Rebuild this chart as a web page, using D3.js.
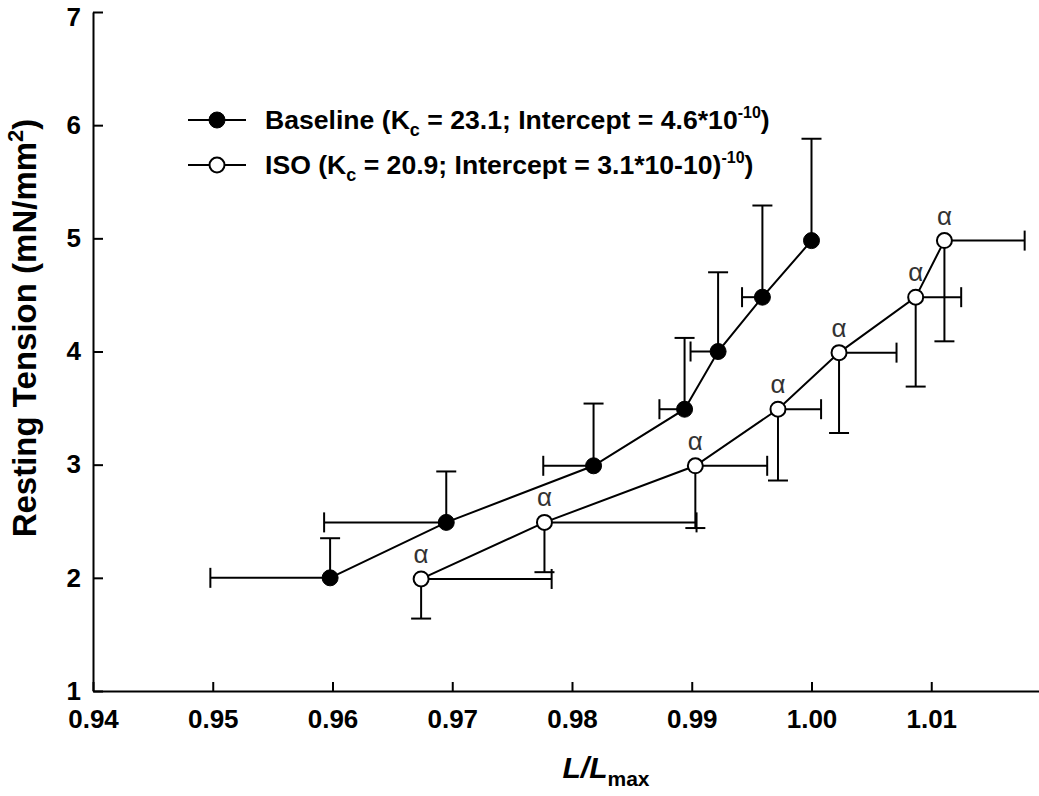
<!DOCTYPE html>
<html>
<head>
<meta charset="utf-8">
<script src="https://cdn.jsdelivr.net/npm/d3@7"></script>
<style>
    body { margin: 0; background: #fff; }
    svg { display: block; }
    text { font-family: Arial, "Liberation Sans", sans-serif; }
</style>
</head>
<body>
<div id="graph"></div>
<script>
// Canvas Info
var CanvasInfo = {
    width: 1039,
    height: 796,
    id: "#graph"
};

// Plot area (pixel edges of the axes)
var PlotInfo = {
    left: 93,
    right: 1051,
    top: 12,
    bottom: 691
};

// Axis values
var xTicks = [0.94, 0.95, 0.96, 0.97, 0.98, 0.99, 1.00, 1.01];
var yTicks = [1, 2, 3, 4, 5, 6, 7];
var xDomain = [0.94, 1.02];
var yDomain = [1, 7];

// Baseline series (error bars drawn left and up)
var baselineX    = [0.9598, 0.9695, 0.9818, 0.9894, 0.9922, 0.9959, 1.0000];
var baselineY    = [2.00, 2.49, 2.99, 3.49, 4.00, 4.48, 4.98];
var baselineXErr = [0.0100, 0.0102, 0.0042, 0.0021, 0.0023, 0.0017, 0.0000];
var baselineYErr = [0.35, 0.45, 0.55, 0.63, 0.70, 0.81, 0.90];

// ISO series (error bars drawn right and down)
var isoX    = [0.9674, 0.9777, 0.9903, 0.9972, 1.0023, 1.0087, 1.0111];
var isoY    = [1.99, 2.49, 2.99, 3.49, 3.99, 4.48, 4.98];
var isoXErr = [0.0109, 0.0127, 0.0060, 0.0036, 0.0048, 0.0038, 0.0067];
var isoYErr = [0.35, 0.44, 0.55, 0.63, 0.71, 0.79, 0.89];
var isoMark = ["α", "α", "α", "α", "α", "α", "α"];

function ZipSeries(xs, ys, xErr, yErr)
{
    return xs.map(function(x, i)
    {
        return { x: x, y: ys[i], xErr: xErr[i], yErr: yErr[i] };
    });
}

function SetupCanvas()
{
    return d3.select(CanvasInfo.id)
             .append("svg")
             .attr("width", CanvasInfo.width)
             .attr("height", CanvasInfo.height);
}

function DrawErrorBars(canvas, data, xScale, yScale, dir)
{
    var cap = 10;
    var g = canvas.append("g")
                  .attr("stroke", "#000")
                  .attr("stroke-width", 2)
                  .attr("fill", "none");

    data.forEach(function(p)
    {
        var cx = xScale(p.x), cy = yScale(p.y);
        // vertical
        var vy = yScale(p.y + dir * p.yErr);
        g.append("line").attr("x1", cx).attr("x2", cx).attr("y1", cy).attr("y2", vy);
        g.append("line").attr("x1", cx - cap).attr("x2", cx + cap).attr("y1", vy).attr("y2", vy);
        // horizontal
        if (p.xErr > 0)
        {
            var hx = xScale(p.x - dir * p.xErr);
            g.append("line").attr("x1", cx).attr("x2", hx).attr("y1", cy).attr("y2", cy);
            g.append("line").attr("x1", hx).attr("x2", hx).attr("y1", cy - cap).attr("y2", cy + cap);
        }
    });
}

function DrawSeries(canvas, data, xScale, yScale, filled)
{
    var line = d3.line()
                 .x(function(p) { return xScale(p.x); })
                 .y(function(p) { return yScale(p.y); });

    canvas.append("path")
          .datum(data)
          .attr("fill", "none")
          .attr("stroke", "#000")
          .attr("stroke-width", 2)
          .attr("d", line);

    canvas.append("g")
          .selectAll("circle")
          .data(data)
          .enter()
          .append("circle")
          .attr("cx", function(p) { return xScale(p.x); })
          .attr("cy", function(p) { return yScale(p.y); })
          .attr("r", filled ? 8 : 7.5)
          .attr("fill", filled ? "#000" : "#fff")
          .attr("stroke", "#000")
          .attr("stroke-width", filled ? 1 : 2);
}

function AddLegendText(text, label, kc, icpt)
{
    text.append("tspan").text(label + " (K");
    text.append("tspan").attr("font-size", 18).attr("dy", 7).text("c");
    text.append("tspan").attr("dy", -7).text(" = " + kc + "; Intercept = " + icpt);
    text.append("tspan").attr("font-size", 16).attr("dy", -11).text("-10");
    text.append("tspan").attr("dy", 11).text(")");
}

function SetupPlot()
{
    var canvas = SetupCanvas();

    var xScale = d3.scaleLinear().domain(xDomain).range([PlotInfo.left, PlotInfo.right]);
    var yScale = d3.scaleLinear().domain(yDomain).range([PlotInfo.bottom, PlotInfo.top]);

    // Axes, ticks pointing inward
    var xAxis = canvas.append("g")
                      .attr("transform", "translate(0," + PlotInfo.bottom + ")")
                      .call(d3.axisBottom(xScale)
                              .tickValues(xTicks)
                              .tickFormat(d3.format(".2f"))
                              .tickSizeInner(-9)
                              .tickSizeOuter(0)
                              .tickPadding(19));

    var yAxis = canvas.append("g")
                      .attr("transform", "translate(" + PlotInfo.left + ",0)")
                      .call(d3.axisLeft(yScale)
                              .tickValues(yTicks)
                              .tickFormat(d3.format("d"))
                              .tickSizeInner(-10)
                              .tickSizeOuter(0)
                              .tickPadding(12));

    [xAxis, yAxis].forEach(function(ax)
    {
        ax.select(".domain").attr("stroke", "#000").attr("stroke-width", 2);
        ax.selectAll(".tick line").attr("stroke", "#000").attr("stroke-width", 2);
        ax.selectAll(".tick text")
          .attr("fill", "#000")
          .attr("font-size", 26)
          .attr("font-weight", "bold")
          .attr("font-family", "Arial, 'Liberation Sans', sans-serif");
    });
    // keep the top label inside the picture
    yAxis.selectAll(".tick text")
         .filter(function(d) { return d === yDomain[1]; })
         .attr("dy", "0.5em");

    // Axis titles
    var xTitle = canvas.append("text")
                       .attr("x", 606)
                       .attr("y", 778)
                       .attr("text-anchor", "middle")
                       .attr("font-weight", "bold")
                       .attr("font-size", 30);
    xTitle.append("tspan").attr("font-style", "italic").text("L/L");
    xTitle.append("tspan").attr("font-size", 21).attr("dy", 8).text("max");

    var yTitle = canvas.append("text")
                       .attr("transform", "translate(36,328) rotate(-90)")
                       .attr("text-anchor", "middle")
                       .attr("font-weight", "bold")
                       .attr("font-size", 33);
    yTitle.append("tspan").text("Resting Tension (mN/mm");
    yTitle.append("tspan").attr("font-size", 22).attr("dy", -13).text("2");
    yTitle.append("tspan").attr("dy", 13).text(")");

    var baseline = ZipSeries(baselineX, baselineY, baselineXErr, baselineYErr);
    var iso = ZipSeries(isoX, isoY, isoXErr, isoYErr);

    DrawErrorBars(canvas, baseline, xScale, yScale, 1);
    DrawErrorBars(canvas, iso, xScale, yScale, -1);
    DrawSeries(canvas, baseline, xScale, yScale, true);
    DrawSeries(canvas, iso, xScale, yScale, false);

    // significance marks above ISO points
    canvas.append("g")
          .selectAll("text")
          .data(iso)
          .enter()
          .append("text")
          .attr("x", function(p) { return xScale(p.x); })
          .attr("y", function(p) { return yScale(p.y) - 16; })
          .attr("text-anchor", "middle")
          .attr("font-size", 26)
          .attr("fill", "#333")
          .text(function(p, i) { return isoMark[i]; });

    // Legend
    var legend = canvas.append("g");
    var rows = [
        { y: 120, filled: true, label: "Baseline", kc: "23.1", icpt: "4.6*10" },
        { y: 165, filled: false, label: "ISO", kc: "20.9", icpt: "3.1*10-10)" }
    ];
    rows.forEach(function(r)
    {
        legend.append("line")
              .attr("x1", 188).attr("x2", 246)
              .attr("y1", r.y).attr("y2", r.y)
              .attr("stroke", "#000").attr("stroke-width", 2);
        legend.append("circle")
              .attr("cx", 217).attr("cy", r.y)
              .attr("r", r.filled ? 8 : 7.5)
              .attr("fill", r.filled ? "#000" : "#fff")
              .attr("stroke", "#000")
              .attr("stroke-width", r.filled ? 1 : 2);
        var t = legend.append("text")
                      .attr("x", 265)
                      .attr("y", r.y + 9)
                      .attr("font-weight", "bold")
                      .attr("font-size", 26.6);
        AddLegendText(t, r.label, r.kc, r.icpt);
    });
}

SetupPlot();
</script>
</body>
</html>
